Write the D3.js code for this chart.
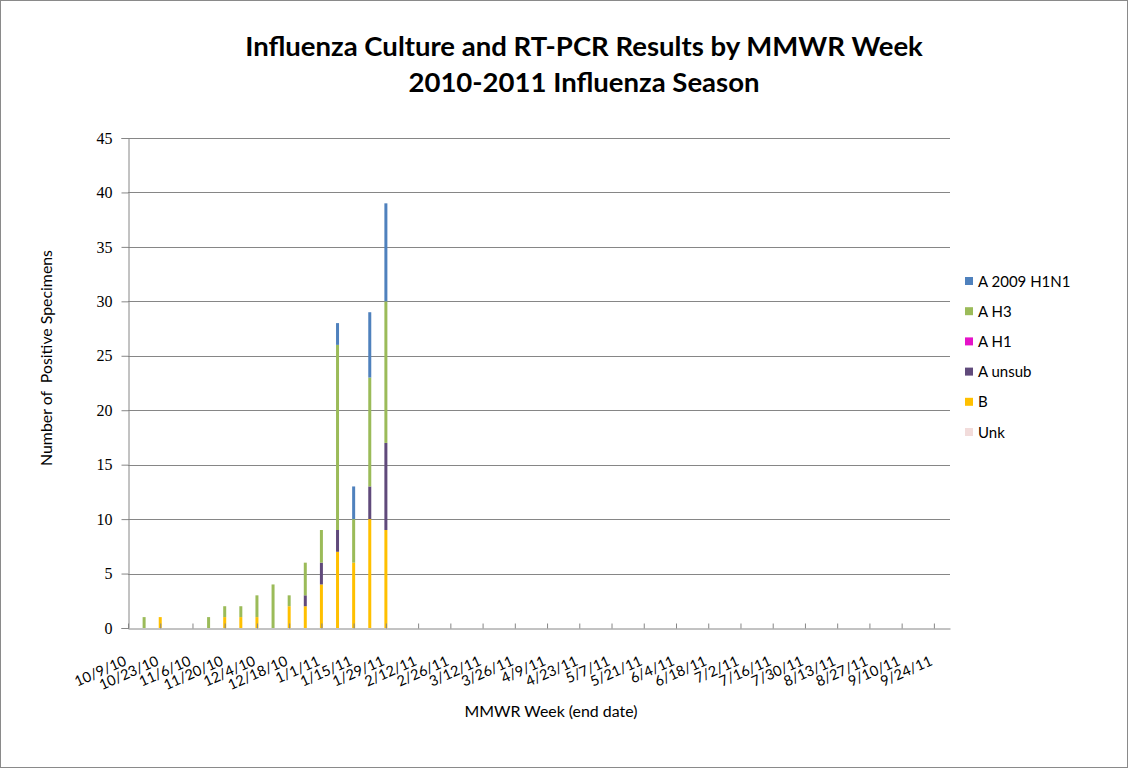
<!DOCTYPE html>
<html><head><meta charset="utf-8">
<script src="https://cdn.jsdelivr.net/npm/d3@7"></script>
<style>
html,body{margin:0;padding:0;background:#fff;}
svg{display:block;}
</style>
</head><body>
<svg id="chart" width="1129" height="769"></svg>
<script>
const weeks = ["10/9/10","10/16/10","10/23/10","10/30/10","11/6/10","11/13/10","11/20/10","11/27/10","12/4/10","12/11/10","12/18/10","12/25/10","1/1/11","1/8/11","1/15/11","1/22/11","1/29/11","2/5/11","2/12/11","2/19/11","2/26/11","3/5/11","3/12/11","3/19/11","3/26/11","4/2/11","4/9/11","4/16/11","4/23/11","4/30/11","5/7/11","5/14/11","5/21/11","5/28/11","6/4/11","6/11/11","6/18/11","6/25/11","7/2/11","7/9/11","7/16/11","7/23/11","7/30/11","8/6/11","8/13/11","8/20/11","8/27/11","9/3/11","9/10/11","9/17/11","9/24/11","10/1/11"];
const unk    = [0,0,0,0,0,0,0,0,0,0,0,0,0,0,0,0,0,0,0,0,0,0,0,0,0,0,0,0,0,0,0,0,0,0,0,0,0,0,0,0,0,0,0,0,0,0,0,0,0,0,0,0];
const fluB   = [0,0,1,0,0,0,1,1,1,0,2,2,4,7,6,10,9,0,0,0,0,0,0,0,0,0,0,0,0,0,0,0,0,0,0,0,0,0,0,0,0,0,0,0,0,0,0,0,0,0,0,0];
const aUnsub = [0,0,0,0,0,0,0,0,0,0,0,1,2,2,0,3,8,0,0,0,0,0,0,0,0,0,0,0,0,0,0,0,0,0,0,0,0,0,0,0,0,0,0,0,0,0,0,0,0,0,0,0];
const aH1    = [0,0,0,0,0,0,0,0,0,0,0,0,0,0,0,0,0,0,0,0,0,0,0,0,0,0,0,0,0,0,0,0,0,0,0,0,0,0,0,0,0,0,0,0,0,0,0,0,0,0,0,0];
const aH3    = [0,1,0,0,0,1,1,1,2,4,1,3,3,17,4,10,13,0,0,0,0,0,0,0,0,0,0,0,0,0,0,0,0,0,0,0,0,0,0,0,0,0,0,0,0,0,0,0,0,0,0,0];
const aH1N1  = [0,0,0,0,0,0,0,0,0,0,0,0,0,2,3,6,9,0,0,0,0,0,0,0,0,0,0,0,0,0,0,0,0,0,0,0,0,0,0,0,0,0,0,0,0,0,0,0,0,0,0,0];
const seriesNames = ["Unk","B","A unsub","A H1","A H3","A 2009 H1N1"];
const seriesValues = [unk, fluB, aUnsub, aH1, aH3, aH1N1];
const seriesColors = ["#F2DCDB","#FFC000","#604A7B","#E512C8","#9BBB59","#4F81BD"];
const yTicks = [0,5,10,15,20,25,30,35,40,45];
const titleLines = ["Influenza Culture and RT-PCR Results by MMWR Week","2010-2011 Influenza Season"];
const xTitle = "MMWR Week (end date)";
const yTitle = "Number of  Positive Specimens";

(function(){
const svg = d3.select("#chart");
const W = 1129, H = 769;
const pL = 128, pR = 950, pT = 138, pB = 628;
const sans = "Lato, 'Open Sans', sans-serif";

function fit(sel, target, base){
  const l = sel.node().getComputedTextLength();
  sel.attr("font-size", base*target/l);
}

svg.append("rect").attr("x",0.5).attr("y",0.5).attr("width",W-2).attr("height",H-2)
  .attr("fill","#fff").attr("stroke","#8a8a8a").attr("stroke-width",1);

const x = d3.scalePoint().domain(weeks).range([pL, pR]).padding(0);
const y = d3.scaleLinear().domain([0,45]).range([pB, pT]);

// gridlines
svg.append("g").selectAll("line").data(yTicks.filter(d=>d>0)).join("line")
  .attr("x1",pL).attr("x2",pR)
  .attr("y1",d=>Math.round(y(d))+0.5).attr("y2",d=>Math.round(y(d))+0.5)
  .attr("stroke","#868686").attr("stroke-width",1);

// stacked bars
const table = weeks.map((w,i)=>{
  const o = {week:w};
  seriesNames.forEach((n,j)=>o[n]=seriesValues[j][i]);
  return o;
});
const stack = d3.stack().keys(seriesNames)(table);
const bw = 3;
const gBars = svg.append("g");
stack.forEach((layer,j)=>{
  gBars.append("g").attr("fill",seriesColors[j]).selectAll("rect")
    .data(layer.filter(d=>d[1]-d[0]>0)).join("rect")
    .attr("x",d=>x(d.data.week)-bw/2)
    .attr("y",d=>y(d[1]))
    .attr("width",bw)
    .attr("height",d=>y(d[0])-y(d[1]));
});

// y axis
const yAxis = d3.axisLeft(y).tickValues(yTicks).tickSize(7).tickPadding(9);
const gy = svg.append("g").attr("transform",`translate(${pL+0.5},0)`).call(yAxis);
gy.select(".domain").attr("stroke","#868686");
gy.selectAll(".tick line").attr("stroke","#868686");
gy.selectAll(".tick text").attr("font-family","'Liberation Serif', serif").attr("font-size",16)
  .attr("fill","#000");

// x axis
const xAxis = d3.axisBottom(x).tickValues(weeks.filter((d,i)=>i%2===0)).tickSize(-5).tickSizeOuter(0).tickPadding(0);
const gx = svg.append("g").attr("transform",`translate(0,${pB+0.5})`).call(xAxis);
gx.select(".domain").attr("stroke","#868686");
gx.selectAll(".tick line").attr("stroke","#868686");
const xl = gx.selectAll(".tick text")
  .attr("font-family",sans).attr("font-size",16).attr("fill","#000")
  .attr("text-anchor","end")
  .attr("dy",null).attr("y",null);
const ref = xl.filter(d=>d==="1/29/11");
const lfs = 16*55/ref.node().getComputedTextLength();
xl.attr("font-size",lfs)
  .attr("transform","translate(-1,36) rotate(-24)");

// titles
const gt = svg.append("g").attr("font-family",sans).attr("font-weight","bold").attr("fill","#000");
gt.selectAll("text").data(titleLines).join("text")
  .attr("x",584).attr("y",(d,i)=>56+i*36).attr("text-anchor","middle")
  .attr("font-size",25).text(d=>d);
const t1 = gt.select("text").node();
const fs = 25*678/t1.getComputedTextLength();
gt.selectAll("text").attr("font-size",fs);

const xt = svg.append("text").attr("x",551).attr("y",717).attr("text-anchor","middle")
  .attr("font-family",sans).attr("font-size",15).attr("fill","#000").text(xTitle);
fit(xt, 173, 15);
const yt = svg.append("text").attr("transform","translate(52,358) rotate(-90)").attr("text-anchor","middle")
  .attr("font-family",sans).attr("font-size",14).attr("fill","#000").style("white-space","pre").text(yTitle);
fit(yt, 216, 14);

// legend (reverse order)
const legendItems = seriesNames.map((n,i)=>({name:n,color:seriesColors[i]})).reverse();
const lg = svg.append("g").selectAll("g").data(legendItems).join("g")
  .attr("transform",(d,i)=>`translate(965,${281+i*30.2})`);
lg.append("rect").attr("x",0).attr("y",-4).attr("width",8).attr("height",8).attr("fill",d=>d.color);
lg.append("text").attr("x",13).attr("y",5.5).attr("font-family",sans).attr("font-size",15)
  .attr("fill","#000").text(d=>d.name);
})();
</script>
</body></html>
